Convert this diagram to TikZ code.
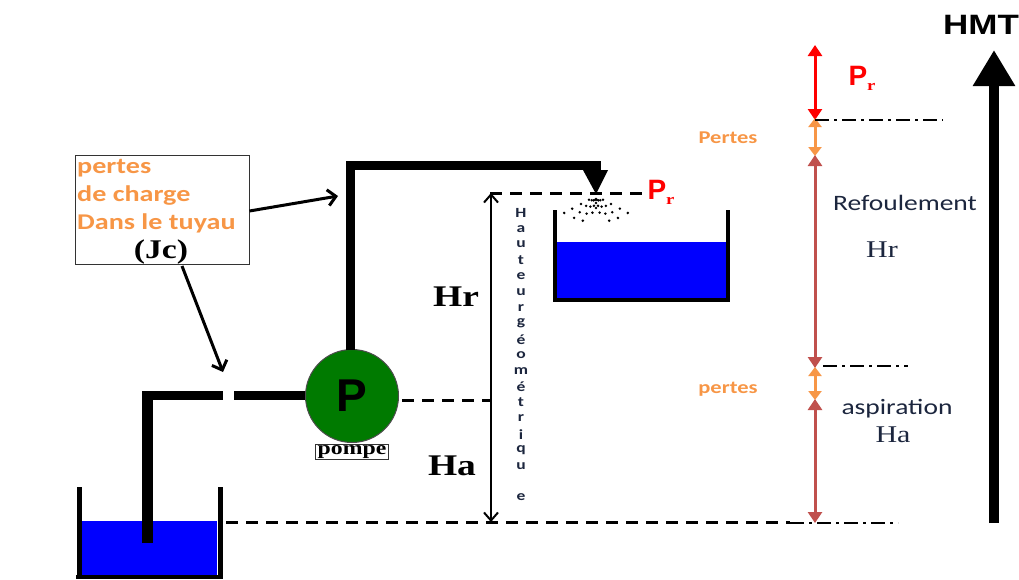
\documentclass[tikz,border=0pt]{standalone}
\usepackage{fontspec}
\usetikzlibrary{arrows.meta,calc}
\newfontfamily\calib{Carlito}[FakeStretch=1.25]
\newfontfamily\timesx{Liberation Serif}[FakeStretch=1.25]
\newfontfamily\arialx{Liberation Sans}[FakeStretch=1.25]
\newfontfamily\arialn{Liberation Sans}
\definecolor{water}{RGB}{0,0,255}
\definecolor{pumpgreen}{RGB}{0,122,0}
\definecolor{lossorange}{RGB}{247,150,70}
\definecolor{headbrown}{RGB}{192,80,77}
\definecolor{inkblue}{RGB}{28,38,62}
\definecolor{prred}{RGB}{255,0,0}
\tikzset{
  pipe/.style={line width=9pt},
  wall/.style={line width=5pt},
  levelline/.style={line width=3pt, dash pattern=on 12pt off 8pt},
  refline/.style={line width=2pt, dash pattern=on 14pt off 5pt on 3pt off 5pt},
  dimarrow/.style={line width=3pt, {Triangle[length=11pt,width=14pt]}-{Triangle[length=11pt,width=14pt]}},
  losstip/.style={{Triangle[length=9pt,width=13pt]}-{Triangle[length=9pt,width=13pt]}},
  callout/.style={line width=3pt, -{Straight Barb[length=8pt,width=16pt]}},
  lbl/.style={inner sep=0pt, anchor=base},
  lossnote/.style={lbl, text=lossorange, font=\calib\bfseries\fontsize{18}{18}\selectfont},
  boxline/.style={lbl, anchor=base west, text=lossorange, font=\calib\bfseries\fontsize{22.5}{22.5}\selectfont},
  headnote/.style={lbl, text=inkblue, font=\calib\fontsize{22}{22}\selectfont},
  bigH/.style={lbl, font=\timesx\bfseries\fontsize{30}{30}\selectfont},
  smallH/.style={lbl, text=inkblue, font=\timesx\fontsize{24}{24}\selectfont},
  vletter/.style={font=\calib\bfseries\fontsize{14}{14}\selectfont, text=inkblue, inner sep=0pt},
}
\newcommand{\prlabel}{{\fontsize{28}{28}\arialn\bfseries P}\raisebox{-5pt}{\fontsize{15}{15}\timesx\bfseries r}}
\begin{document}
\begin{tikzpicture}[x=1pt,y=-1pt]
\useasboundingbox (0,0) rectangle (1019,579);

% lower (suction) tank
\fill[water] (82,521) rectangle (217,577);
\draw[wall] (79,487) -- (79,579);
\draw[wall] (220,487) -- (220,579);
\draw[line width=4pt] (76,577) -- (223,577);

% upper (delivery) tank
\fill[water] (557,242) rectangle (726,298);
\draw[line width=4pt] (555,210) -- (555,300) -- (728,300) -- (728,210);

% suction pipe
\draw[line width=11pt] (147.5,543) -- (147.5,391.5);
\draw[line width=9pt] (142,395.5) -- (306,395.5);
\fill[white] (223,390) rectangle (234,401);

% pump
\node[circle, fill=pumpgreen, draw=black!70, line width=1pt, minimum size=93pt, inner sep=0pt,
      font=\arialn\bfseries\fontsize{46}{46}\selectfont] (pump) at (352,396) {P};
\node[draw=black!80, line width=0.8pt, inner xsep=2pt, inner ysep=1pt, anchor=north,
      font=\timesx\bfseries\fontsize{19}{19}\selectfont] (pompe) at (352,444) {pompe};

% delivery pipe with nozzle
\draw[pipe, line join=miter] (350,350) -- (350,165) -- (596,165) -- (596,172);
\fill (583,170) -- (608,170) -- (596,194) -- cycle;
\coordinate (nozzle) at (596,196);
\foreach \a/\rr in {-62/{8,17,27,36},-45/{6,14,23,31},-28/{5,12,20,28},-12/{4,10,17},0/{3,7,12},12/{4,10,17},28/{5,12,20,28},45/{6,14,23,31},62/{8,17,27,36}}
  \foreach \r in \rr
    \fill ($(nozzle)+(\a+90:\r)$) circle (1.4pt);

% reference levels
\draw[levelline] (490,193) -- (642,193);
\draw[levelline] (402,400) -- (492,400);
\draw[levelline] (226,522) -- (790,522);

% geometric head
\coordinate (geotop) at (491,193);
\coordinate (geobot) at (491,522);
\draw[line width=2pt, {Straight Barb[length=8pt,width=14pt]}-{Straight Barb[length=8pt,width=14pt]}] (geotop) -- (geobot);
\foreach \c [count=\k from 0] in {H,a,u,t,e,u,r,g,é,o,m,é,t,r,i,q,u}
  \node[vletter] at (521,{213+15.8*\k}) {\c};
\node[vletter] at (521,497) {e};

\node[bigH] (hrleft) at (456,306) {Hr};
\node[bigH] (haleft) at (452,475) {Ha};
\node[lbl, text=prred] (prtank) at (661,199) {\prlabel};

% head-loss note
\node[draw=black!80, line width=1pt, minimum width=174pt, minimum height=109pt, inner sep=0pt] (note) at (162,209.5) {};
\node[boxline] (l1) at (77,173) {pertes};
\node[boxline] (l2) at (77,201) {de charge};
\node[boxline] (l3) at (77,229) {Dans le tuyau};
\node[lbl, font=\timesx\bfseries\fontsize{27}{27}\selectfont] (jc) at (161,258) {(Jc)};
\coordinate (pipehit) at (338,196);
\coordinate (gaphit) at (223,372);
\draw[callout] (note.east |- 0,211) -- (pipehit);
\draw[callout] (182,266) -- (gaphit);

% head breakdown on the right
\coordinate (a0) at (815,45);
\coordinate (a1) at (815,120);
\coordinate (a2) at (815,156);
\coordinate (a3) at (815,364);
\coordinate (a4) at (815,367);
\coordinate (a5) at (815,400);
\coordinate (a6) at (815,523);
\draw[dimarrow, prred] (a0) -- (a1);
\draw[dimarrow, lossorange, losstip] ([yshift=2pt]a1) -- (a2);
\draw[dimarrow, headbrown] ([yshift=1pt]a2) -- ([yshift=-4pt]a3);
\draw[dimarrow, lossorange, losstip] (a4) -- (a5);
\draw[dimarrow, headbrown] ([yshift=1pt]a5) -- (a6);
\draw[refline] (a1) -- (943,120);
\draw[refline] (823,366) -- (908,366);
\draw[refline] (790,523) -- (898,523);

\node[lbl, text=prred] (prtop) at (862,85) {\prlabel};
\node[lossnote] (pertes1) at (728,143) {Pertes};
\node[lossnote] (pertes2) at (728,393) {pertes};
\node[headnote] (refoul) at (905,210) {Refoulement};
\node[smallH] (hrright) at (882,257) {Hr};
\node[headnote] (aspir) at (897,414) {aspiration};
\node[smallH] (haright) at (893,442) {Ha};

% total manometric head
\coordinate (hmtbot) at (994,523);
\coordinate (hmttop) at (994,50);
\draw[line width=10pt, -{Triangle[length=36pt,width=40pt]}] (hmtbot) -- (hmttop);
\node[lbl, font=\arialx\bfseries\fontsize{28}{28}\selectfont] (hmt) at (981,34) {HMT};
\end{tikzpicture}
\end{document}
